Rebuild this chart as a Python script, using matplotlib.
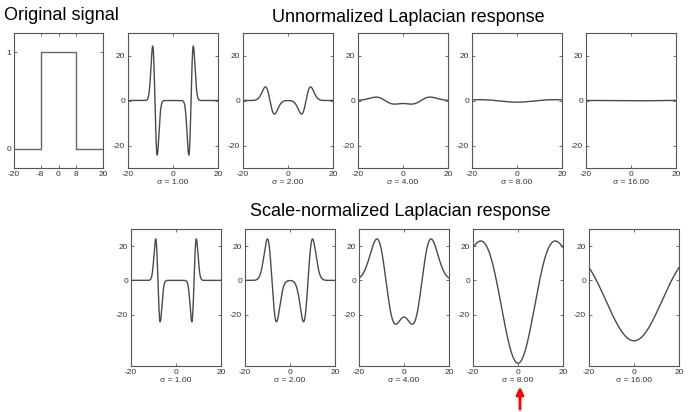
import numpy as np
import matplotlib.pyplot as plt
from matplotlib.patches import FancyArrowPatch

plt.rcParams['font.family'] = ['Liberation Sans', 'DejaVu Sans']
plt.rcParams['axes.unicode_minus'] = False

# original box signal (step outline) and its edges
sig_x = [-20, -8, -8, 8, 8, 20]
sig_y = [0, 0, 1, 1, 0, 0]
edges = [-8, 8]
sigmas = [1, 2, 4, 8, 16]
sigma_labels = ['\u03c3 = 1.00', '\u03c3 = 2.00', '\u03c3 = 4.00', '\u03c3 = 8.00', '\u03c3 = 16.00']
gain = 100  # axes units of the response

W, H = 690, 412
line_col = '#4a4a4a'
edge_col = '#555555'

# sampled signal on a wide grid so the big kernels see zeros outside
dx = 0.05
xs = np.arange(-2400, 2401) * dx
signal = ((xs >= edges[0]) & (xs <= edges[1])).astype(float)
keep = np.abs(xs) <= 20


def log_response(sigma):
    n = int(6 * sigma / dx)
    t = np.arange(-n, n + 1) * dx
    g = np.exp(-t**2 / (2 * sigma**2)) / (np.sqrt(2 * np.pi) * sigma)
    kern = (t**2 / sigma**4 - 1 / sigma**2) * g
    return gain * np.convolve(signal, kern, mode='same') * dx


def ax_at(fig, l, t, w, h):
    ax = fig.add_axes([l / W, 1 - (t + h) / H, w / W, h / H])
    for s in ax.spines.values():
        s.set_color(edge_col)
        s.set_linewidth(0.8)
    ax.tick_params(direction='in', length=2, width=0.6, colors=edge_col,
                   labelcolor='#333333', labelsize=6, pad=2,
                   top=True, right=True)
    return ax


fig = plt.figure(figsize=(W / 100, H / 100), dpi=100)

fig.text(4 / W, 1 - 16 / H, 'Original signal', fontsize=13, va='center', ha='left')
fig.text(408 / W, 1 - 18 / H, 'Unnormalized Laplacian response', fontsize=13,
         va='center', ha='center')
fig.text(400 / W, 1 - 212 / H, 'Scale-normalized Laplacian response', fontsize=13,
         va='center', ha='center')

# original signal
ax = ax_at(fig, 14, 33, 89, 135)
ax.plot(sig_x, sig_y, color='#666666', lw=1.0)
ax.set_xlim(-20, 20)
ax.set_ylim(-0.2, 1.2)
ax.set_xticks([-20, -8, 0, 8, 20])
ax.set_yticks([0, 1])

top_lefts = [128, 243, 358, 472, 586]
bot_lefts = [131, 245, 359, 473, 589]

for i, s in enumerate(sigmas):
    r = log_response(s)
    # unnormalized
    ax = ax_at(fig, top_lefts[i], 33, 90, 135)
    ax.plot(xs[keep], r[keep], color=line_col, lw=1.0)
    ax.set_xlim(-20, 20)
    ax.set_ylim(-30, 30)
    ax.set_xticks([-20, 0, 20])
    ax.set_yticks([-20, 0, 20])
    ax.set_xlabel(sigma_labels[i], fontsize=6, labelpad=1, color='#333333')
    # scale-normalized
    ax = ax_at(fig, bot_lefts[i], 229, 90, 137)
    ax.plot(xs[keep], s**2 * r[keep], color=line_col, lw=1.0)
    ax.set_xlim(-20, 20)
    ax.set_ylim(-50, 30)
    ax.set_xticks([-20, 0, 20])
    ax.set_yticks([-20, 0, 20])
    ax.set_xlabel(sigma_labels[i], fontsize=6, labelpad=1, color='#333333')

arrow = FancyArrowPatch((520 / W, 0.0), (520 / W, 1 - 384 / H),
                        transform=fig.transFigure, color='red', lw=2,
                        arrowstyle='-|>', mutation_scale=11)
fig.patches.append(arrow)

fig.savefig('out.png', dpi=100)
